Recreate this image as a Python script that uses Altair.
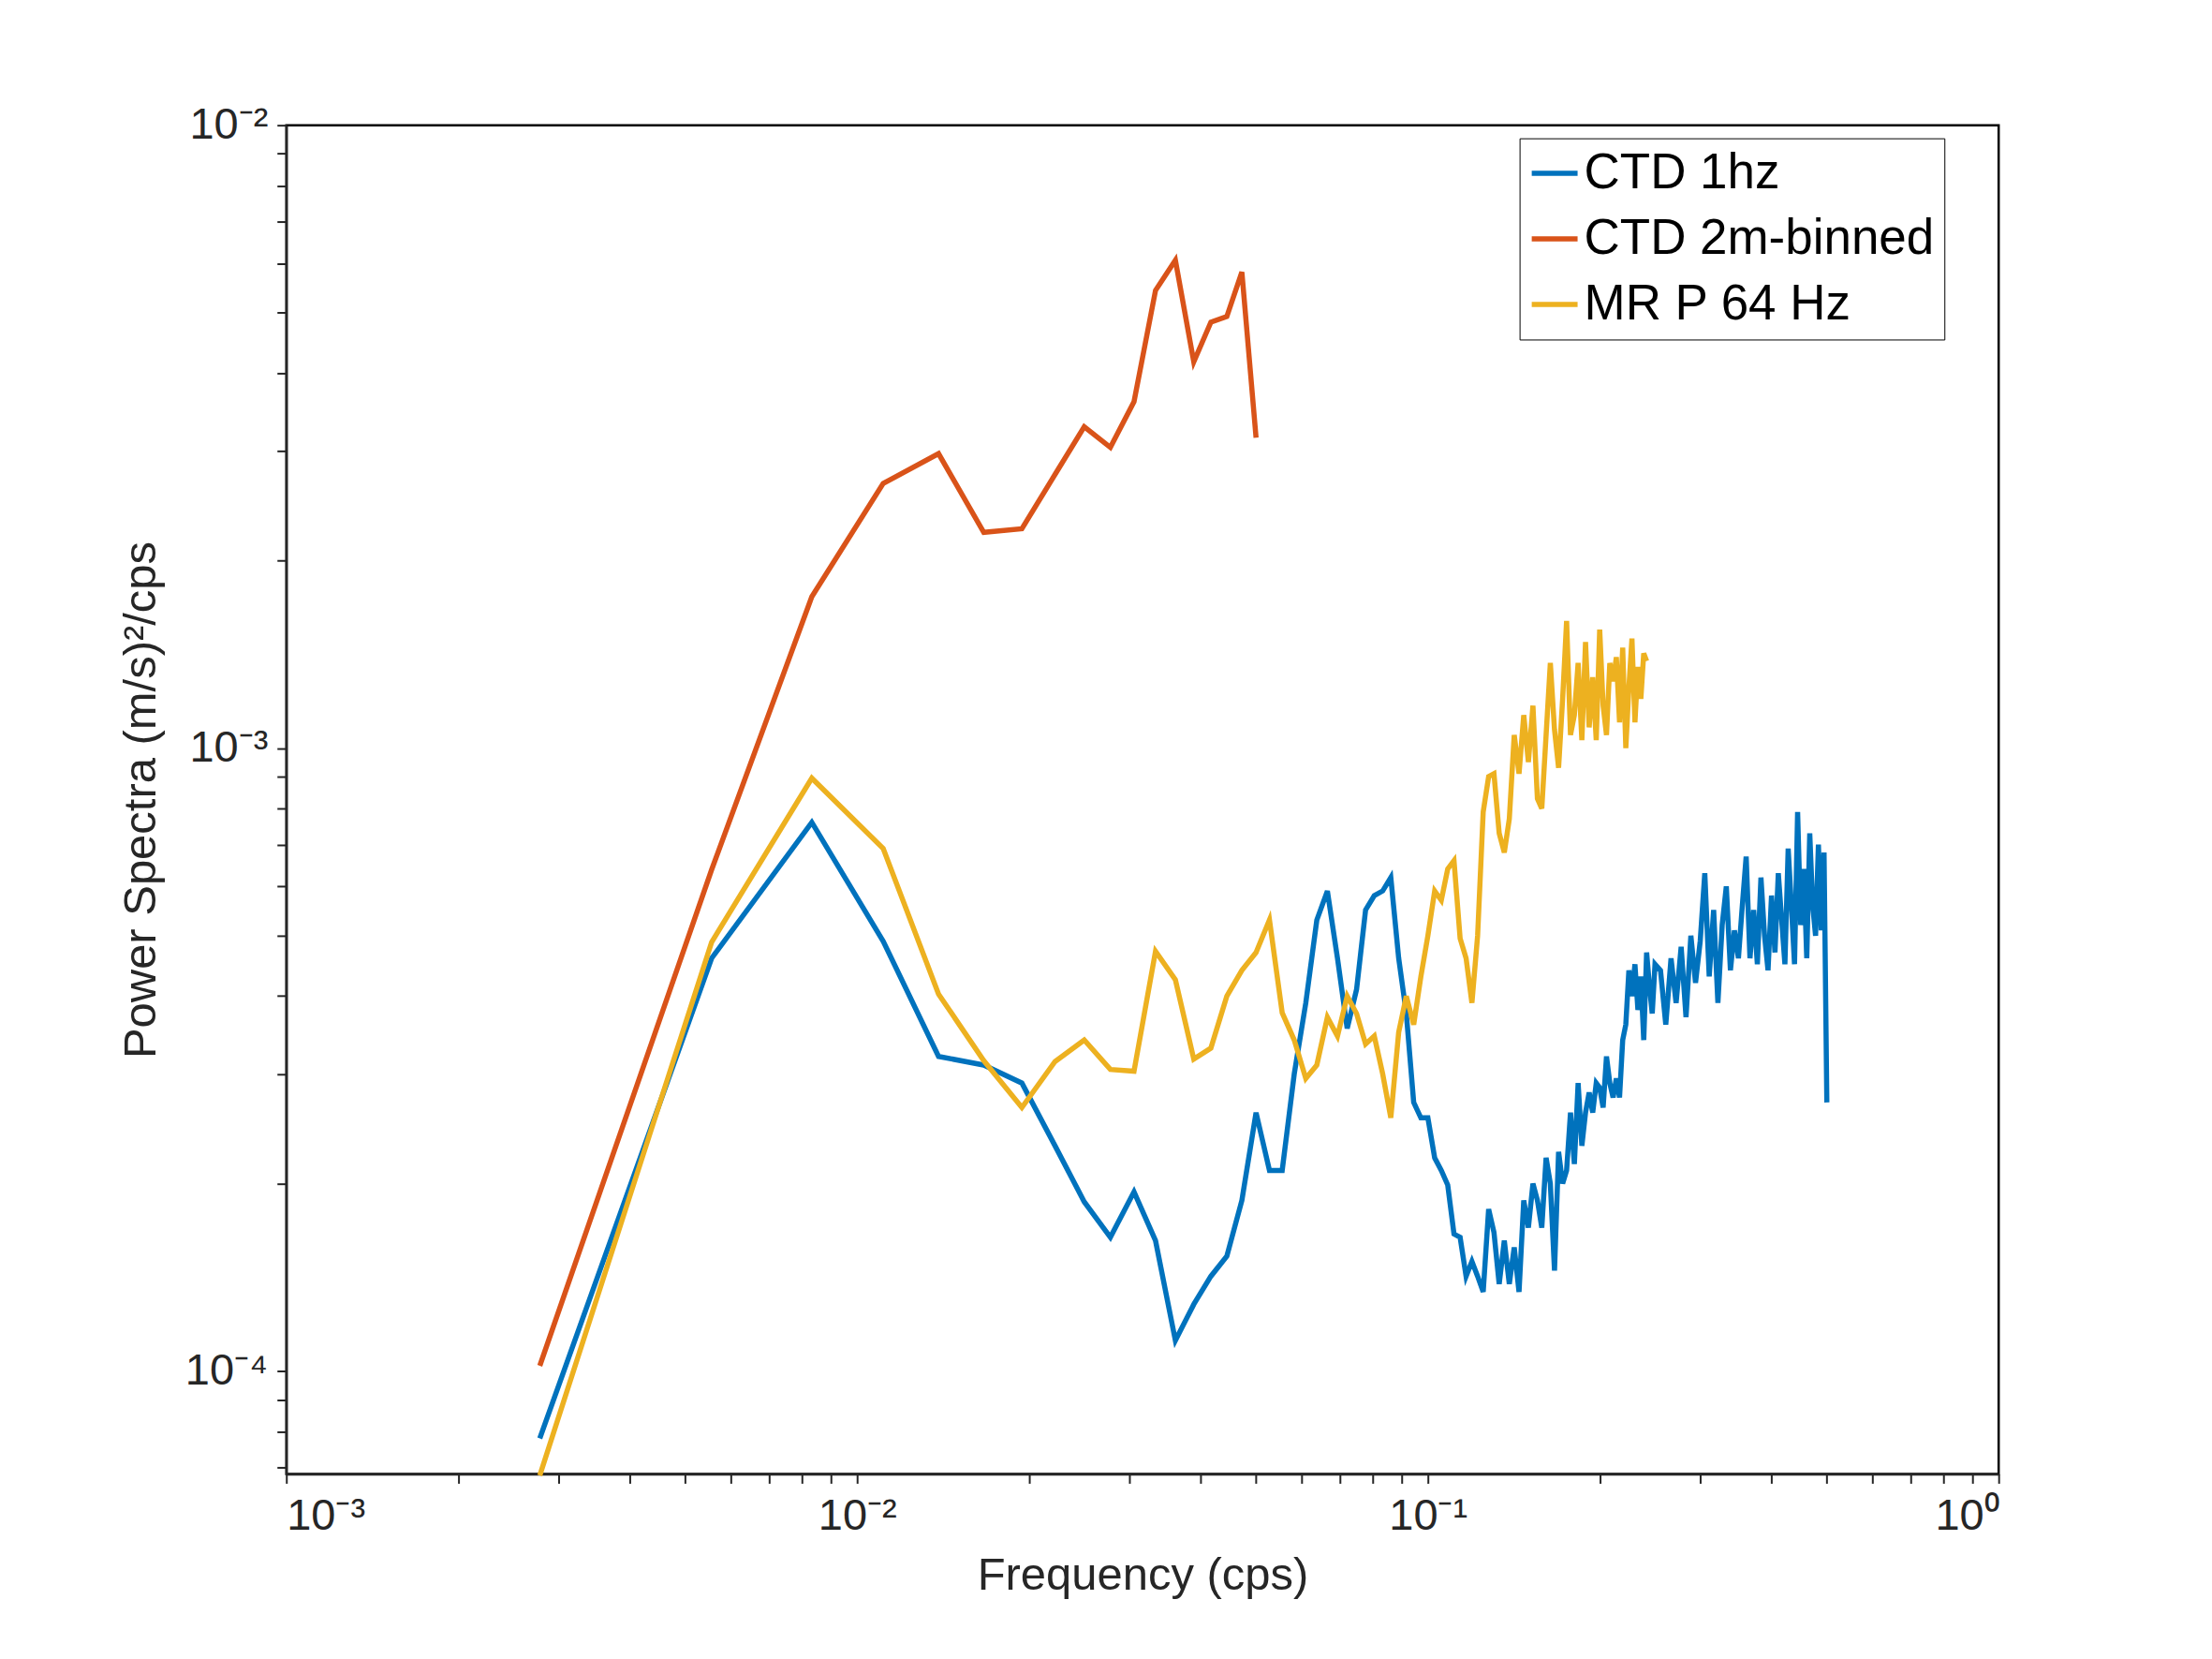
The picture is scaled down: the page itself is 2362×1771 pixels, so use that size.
import pandas as pd
import altair as alt

freq = [0.00278, 0.00556, 0.00833, 0.01111, 0.01389, 0.01667, 0.01944, 0.02222, 0.025, 0.02778,
        0.03056, 0.03333, 0.03611, 0.03889, 0.04167, 0.04444, 0.04722, 0.05, 0.05278, 0.05556,
        0.05833, 0.06111, 0.06389, 0.06667, 0.06944, 0.07222, 0.075, 0.07778, 0.08056, 0.08333,
        0.08611, 0.08889, 0.09167, 0.09444, 0.09722, 0.1, 0.10278, 0.10556, 0.10833, 0.11111,
        0.11389, 0.11667, 0.11944, 0.12222, 0.125, 0.12778, 0.13056, 0.13333, 0.13611, 0.13889,
        0.14167, 0.14444, 0.14722, 0.15, 0.15278, 0.15556, 0.15833, 0.16111, 0.16389, 0.16667,
        0.16944, 0.17222, 0.175, 0.17778, 0.18056, 0.18333, 0.18611, 0.18889, 0.19167, 0.19444,
        0.19722, 0.2, 0.20278, 0.20556, 0.20833, 0.21111, 0.21389, 0.21667, 0.21944, 0.22222,
        0.225, 0.22778, 0.23056, 0.23333, 0.23611, 0.23889, 0.24167, 0.24444, 0.24722, 0.25]

freq_tail = [0.2556, 0.2611, 0.2667, 0.2722, 0.2778, 0.2833, 0.2889, 0.2944, 0.3, 0.3056,
             0.3111, 0.3167, 0.3222, 0.3278, 0.3333, 0.3389, 0.3444, 0.35, 0.3556, 0.3611,
             0.3667, 0.3722, 0.3778, 0.3833, 0.3889, 0.3944, 0.4, 0.4056, 0.4111, 0.4167,
             0.4222, 0.4278, 0.4333, 0.4389, 0.4444, 0.45, 0.4556, 0.4611, 0.4667, 0.4722,
             0.4778, 0.4833, 0.4889, 0.4944, 0.5]

ctd_1hz = [7.8e-5, 4.6e-4, 7.6e-4, 4.9e-4, 3.2e-4, 3.1e-4, 2.9e-4, 2.3e-4, 1.87e-4, 1.64e-4,
           1.94e-4, 1.62e-4, 1.12e-4, 1.28e-4, 1.42e-4, 1.53e-4, 1.88e-4, 2.6e-4, 2.1e-4, 2.1e-4,
           3.0e-4, 3.9e-4, 5.3e-4, 5.9e-4, 4.6e-4, 3.55e-4, 4.1e-4, 5.5e-4, 5.8e-4, 5.9e-4,
           6.2e-4, 4.6e-4, 3.75e-4, 2.7e-4, 2.55e-4, 2.55e-4, 2.2e-4, 2.1e-4, 1.99e-4, 1.66e-4,
           1.64e-4, 1.42e-4, 1.5e-4, 1.42e-4, 1.34e-4, 1.82e-4, 1.67e-4, 1.38e-4, 1.62e-4, 1.38e-4,
           1.58e-4, 1.34e-4, 1.88e-4, 1.7e-4, 2.0e-4, 1.88e-4, 1.7e-4, 2.2e-4, 2.0e-4, 1.45e-4,
           2.25e-4, 2.0e-4, 2.1e-4, 2.6e-4, 2.15e-4, 2.9e-4, 2.3e-4, 2.6e-4, 2.8e-4, 2.6e-4,
           2.9e-4, 2.85e-4, 2.65e-4, 3.2e-4, 2.9e-4, 2.75e-4, 2.95e-4, 2.75e-4, 3.4e-4, 3.6e-4,
           4.4e-4, 4.0e-4, 4.5e-4, 3.8e-4, 4.3e-4, 3.4e-4, 4.7e-4, 4.15e-4, 3.75e-4, 4.5e-4]
ctd_1hz_tail = [4.4e-4, 3.6e-4, 4.6e-4, 3.9e-4, 4.8e-4, 3.7e-4, 5.0e-4, 4.2e-4, 4.9e-4, 6.3e-4,
                4.3e-4, 5.5e-4, 3.9e-4, 5.2e-4, 6.0e-4, 4.4e-4, 5.1e-4, 4.6e-4, 5.6e-4, 6.7e-4,
                4.6e-4, 5.5e-4, 4.5e-4, 6.2e-4, 5.0e-4, 4.4e-4, 5.8e-4, 4.7e-4, 6.3e-4, 5.3e-4,
                4.5e-4, 6.9e-4, 5.6e-4, 4.5e-4, 7.9e-4, 5.2e-4, 6.4e-4, 4.6e-4, 7.3e-4, 5.6e-4,
                5.0e-4, 7.0e-4, 5.1e-4, 6.8e-4, 2.7e-4]

ctd_binned = [1.02e-4, 6.38e-4, 1.75e-3, 2.66e-3, 2.97e-3, 2.22e-3, 2.25e-3, 2.75e-3, 3.28e-3, 3.04e-3,
              3.6e-3, 5.43e-3, 6.07e-3, 4.17e-3, 4.83e-3, 4.93e-3, 5.81e-3, 3.15e-3]

mr_64hz = [6.8e-5, 4.88e-4, 8.95e-4, 6.9e-4, 4.03e-4, 3.15e-4, 2.65e-4, 3.14e-4, 3.4e-4, 3.05e-4,
           3.03e-4, 4.72e-4, 4.25e-4, 3.17e-4, 3.3e-4, 4.0e-4, 4.4e-4, 4.7e-4, 5.3e-4, 3.76e-4,
           3.4e-4, 2.95e-4, 3.1e-4, 3.7e-4, 3.45e-4, 4.0e-4, 3.75e-4, 3.35e-4, 3.45e-4, 3.0e-4,
           2.55e-4, 3.5e-4, 4.0e-4, 3.6e-4, 4.3e-4, 5.0e-4, 5.9e-4, 5.7e-4, 6.4e-4, 6.6e-4,
           4.95e-4, 4.6e-4, 3.9e-4, 5.0e-4, 7.9e-4, 9.0e-4, 9.1e-4, 7.3e-4, 6.8e-4, 7.7e-4,
           1.05e-3, 9.1e-4, 1.13e-3, 9.5e-4, 1.17e-3, 8.3e-4, 8.0e-4, 1.05e-3, 1.37e-3, 1.07e-3,
           9.3e-4, 1.2e-3, 1.6e-3, 1.05e-3, 1.13e-3, 1.37e-3, 1.03e-3, 1.48e-3, 1.08e-3, 1.3e-3,
           1.03e-3, 1.55e-3, 1.17e-3, 1.05e-3, 1.37e-3, 1.28e-3, 1.4e-3, 1.1e-3, 1.45e-3, 1.0e-3,
           1.25e-3, 1.5e-3, 1.1e-3, 1.35e-3, 1.2e-3, 1.42e-3, 1.38e-3]

series = ["CTD 1hz", "CTD 2m-binned", "MR P 64 Hz"]
colors = ["#0072BD", "#D95319", "#EDB120"]

rows = []
for f, v in zip(freq + freq_tail, ctd_1hz + ctd_1hz_tail):
    rows.append({"f": f, "p": v, "s": series[0]})
for f, v in zip(freq, ctd_binned):
    rows.append({"f": f, "p": v, "s": series[1]})
for f, v in zip(freq, mr_64hz):
    rows.append({"f": f, "p": v, "s": series[2]})
df = pd.DataFrame(rows)
df["o"] = df.groupby("s").cumcount()

x_ticks = [1e-3, 2e-3, 3e-3, 4e-3, 5e-3, 6e-3, 7e-3, 8e-3, 9e-3,
           1e-2, 2e-2, 3e-2, 4e-2, 5e-2, 6e-2, 7e-2, 8e-2, 9e-2,
           1e-1, 2e-1, 3e-1, 4e-1, 5e-1, 6e-1, 7e-1, 8e-1, 9e-1, 1]
y_ticks = [7e-5, 8e-5, 9e-5, 1e-4, 2e-4, 3e-4, 4e-4, 5e-4, 6e-4, 7e-4, 8e-4, 9e-4,
           1e-3, 2e-3, 3e-3, 4e-3, 5e-3, 6e-3, 7e-3, 8e-3, 9e-3, 1e-2]

lab = ("abs(log(datum.value)/LN10 - round(log(datum.value)/LN10)) < 0.001 ? "
       "({'-5':'10⁻⁵','-4':'10⁻⁴','-3':'10⁻³','-2':'10⁻²','-1':'10⁻¹','0':'10⁰'})"
       "['' + round(log(datum.value)/LN10)] : ''")

chart = alt.Chart(df).mark_line(strokeWidth=5.5).encode(
    x=alt.X("f:Q", title="Frequency (cps)",
            scale=alt.Scale(type="log", domain=[1e-3, 1], nice=False),
            axis=alt.Axis(values=x_ticks, labelExpr=lab, grid=False, tickSize=10,
                          labelPadding=12, titlePadding=16)),
    y=alt.Y("p:Q", title="Power Spectra (m/s)²/cps",
            scale=alt.Scale(type="log", domain=[6.84e-5, 1e-2], nice=False),
            axis=alt.Axis(values=y_ticks, labelExpr=lab, grid=False, tickSize=10,
                          labelPadding=10, titlePadding=22)),
    color=alt.Color("s:N", scale=alt.Scale(domain=series, range=colors),
                    legend=alt.Legend(title=None, orient="none", legendX=1318, legendY=14,
                                      symbolType="stroke", symbolStrokeWidth=5.5, symbolSize=2400,
                                      labelFontSize=53, labelFont="Liberation Sans",
                                      labelColor="black",
                                      strokeColor="black", fillColor="white", padding=10,
                                      rowPadding=15, labelLimit=700, labelOffset=4)),
    order="o:Q",
).properties(
    width=1830, height=1441,
    autosize=alt.AutoSizeParams(type="none"),
    padding={"left": 298, "top": 125, "right": 220, "bottom": 190},
).configure_view(stroke="black", strokeWidth=2.5).configure_axis(
    labelFont="Liberation Sans", titleFont="Liberation Sans",
    labelFontSize=47, titleFontSize=49, titleFontWeight="normal",
    labelColor="#262626", titleColor="#262626",
    domainColor="#262626", tickColor="#262626", domainWidth=2.5, tickWidth=2,
)

chart.save("out.html", embed_options={"renderer": "svg", "actions": False})
